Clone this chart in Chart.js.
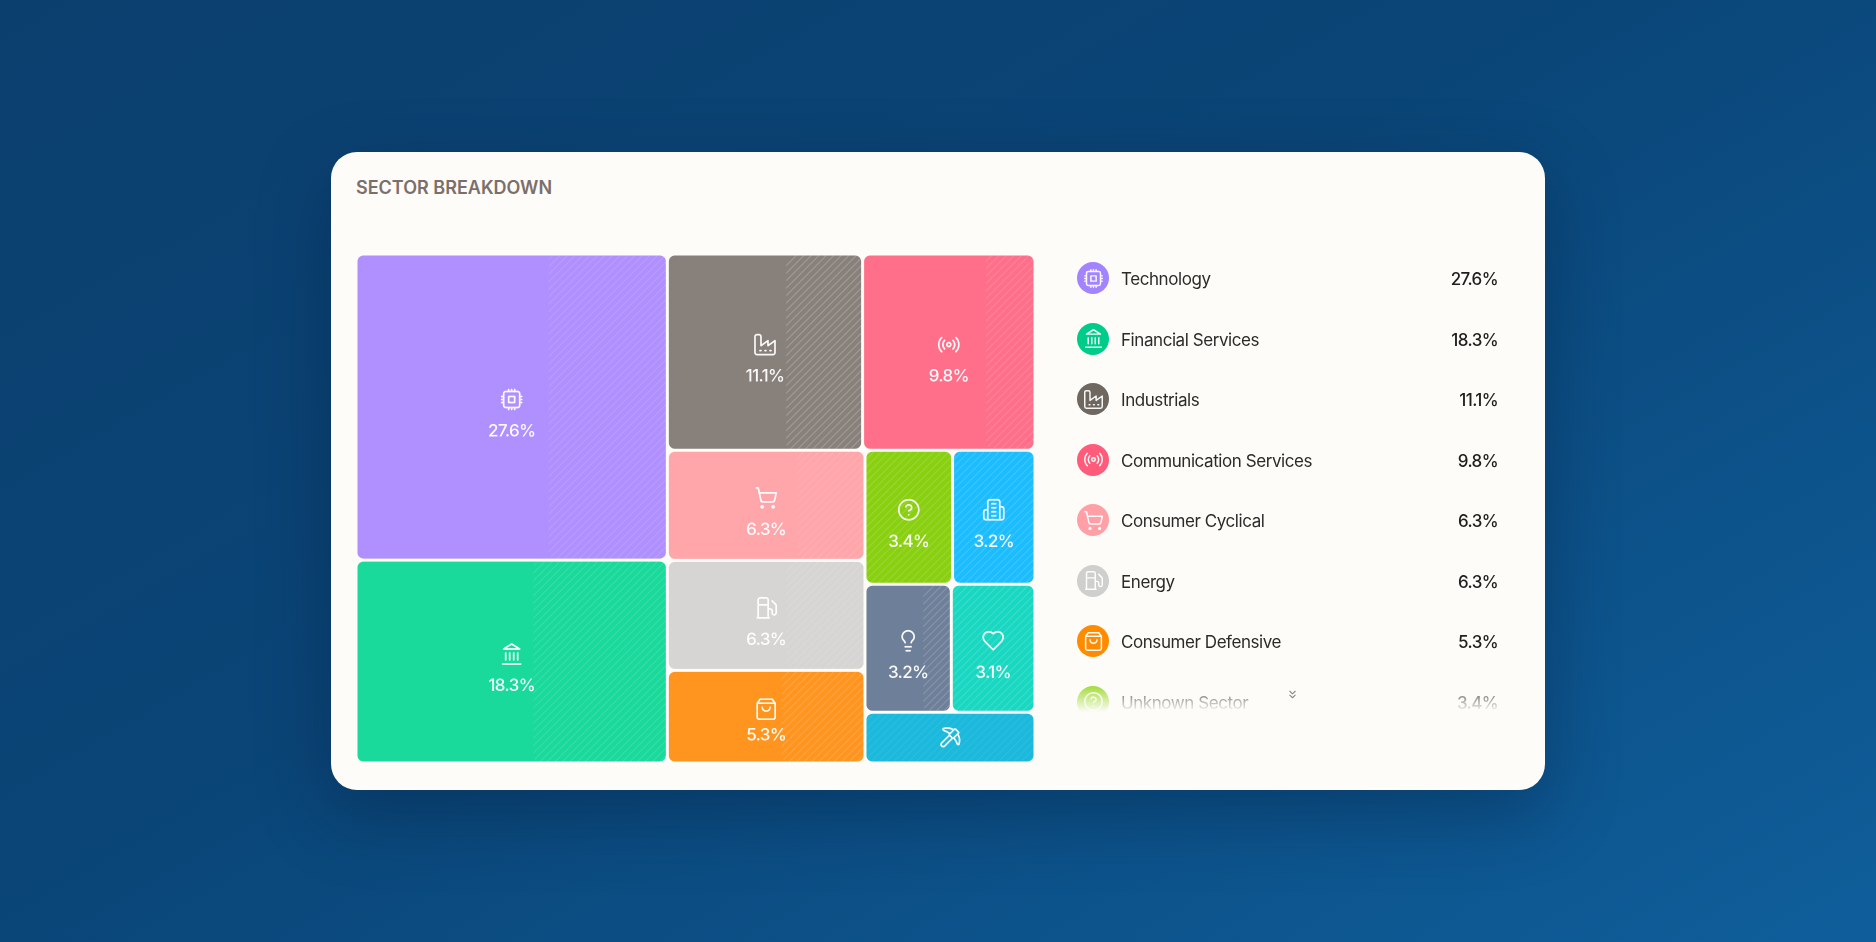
<!DOCTYPE html>
<html>
<head>
<meta charset="utf-8">
<title>Sector Breakdown</title>
<script src="https://cdn.jsdelivr.net/npm/chart.js@4"></script>
<style>
  html, body { margin: 0; height: 100%; overflow: hidden; }
  body {
    width: 1876px; height: 942px; position: relative;
    background: linear-gradient(150deg, #0b3f6e 0%, #0a4577 45%, #0f5e9b 100%);
    font-family: Inter, "Noto Sans", sans-serif;
  }
  #card {
    position: absolute; left: 331px; top: 152px; width: 1214px; height: 638px;
    background: #fdfcf8; border-radius: 26px;
    box-shadow: 0 24px 70px rgba(3, 30, 60, 0.38);
  }
  #title {
    position: absolute; left: 25px; top: 26px; font-size: 18px; font-weight: 600;
    line-height: 20px; color: #7b6f6b; letter-spacing: 0;
  }
  #sectorChart { position: absolute; left: 25px; top: 102px; }
  #legendList {
    position: absolute; left: 746px; top: 96px; width: 421px; height: 465px; overflow: hidden;
    -webkit-mask-image: linear-gradient(to bottom, #000 0, #000 432px, transparent 464px);
    mask-image: linear-gradient(to bottom, #000 0, #000 432px, transparent 464px);
  }
  .row { position: absolute; left: 0; width: 421px; height: 32px; display: flex; align-items: center; }
  .dot { width: 32px; height: 32px; border-radius: 50%; display: flex; align-items: center; justify-content: center; flex: none; }
  .name { margin-left: 12px; font-size: 17px; letter-spacing: -0.43px; color: #2b2b2a; flex: 1; position: relative; top: 1px; }
  .val { font-size: 17px; font-weight: 500; letter-spacing: -0.6px; color: #1e1e1d; position: relative; top: 1px; }
  #moreHint { position: absolute; left: 955px; top: 536px; }
</style>
</head>
<body>
<div id="card">
  <div id="title">SECTOR BREAKDOWN</div>
  <canvas id="sectorChart" width="679" height="509"></canvas>
  <div id="legendList"></div>
  <svg id="moreHint" width="13" height="13" viewBox="0 0 24 24" fill="none" stroke="#8a8a88" stroke-width="2" stroke-linecap="round" stroke-linejoin="round"><path d="M7 6l5 5 5-5M7 13l5 5 5-5"/></svg>
</div>
<script>
// Sector data
const sectorNames = ["Technology", "Financial Services", "Industrials", "Communication Services",
  "Consumer Cyclical", "Energy", "Consumer Defensive", "Unknown Sector",
  "Real Estate", "Utilities", "Healthcare", "Basic Materials"];
const sectorValues = [27.6, 18.3, 11.1, 9.8, 6.3, 6.3, 5.3, 3.4, 3.2, 3.2, 3.1, 2.5];
const legendRowCount = 8;

// How the cells nest: each level splits the other way round
const sectorTree = [[0, 1], [[2, 3], [[4, 5, 6], [[7, 8], [9, 10], [11]]]]];

// Styles
const cellColors = ["#b08fff", "#19d99b", "#88807a", "#ff6f8a", "#ffa6ab", "#d6d5d3",
  "#ff951f", "#89d010", "#1bbdff", "#6e7f99", "#19d8c1", "#1bb9dc"];
const dotColors = ["#a284ff", "#00cc8a", "#6f6861", "#ff5c7c", "#ffa0a6", "#cfcfcd",
  "#ff8c00", "#8fd412", "#1fbfff", "#6e7f99", "#1bd9c2", "#1cbadd"];
const hatchStart = [0.62, 0.57, 0.61, 0.72, 0.66, 0.6, 0.58, 0, 0, 0.68, 0, 0];
const hatchAlpha = [0.13, 0.13, 0.2, 0.13, 0.1, 0.12, 0.14, 0.14, 0.14, 0.16, 0.14, 0.08];
const iconPaths = [
  "M6 4h12a2 2 0 0 1 2 2v12a2 2 0 0 1-2 2H6a2 2 0 0 1-2-2V6a2 2 0 0 1 2-2z M9 9h6v6H9z M15 2v2 M15 20v2 M2 15h2 M2 9h2 M20 15h2 M20 9h2 M9 2v2 M9 20v2 M12 2v2 M12 20v2 M2 12h2 M20 12h2",
  "M3 22h18 M6 18v-7 M10 18v-7 M14 18v-7 M18 18v-7 M12 2l8 5H4z",
  "M2 20a2 2 0 0 0 2 2h16a2 2 0 0 0 2-2V8l-7 5V8l-7 5V4a2 2 0 0 0-2-2H4a2 2 0 0 0-2 2Z M17 18h1 M12 18h1 M7 18h1",
  "M4.9 19.1C1 15.2 1 8.8 4.9 4.9 M7.8 16.2c-2.3-2.3-2.3-6.1 0-8.5 M14 12a2 2 0 1 1-4 0 2 2 0 0 1 4 0z M16.2 7.8c2.3 2.3 2.3 6.1 0 8.5 M19.1 4.9C23 8.8 23 15.1 19.1 19",
  "M9 21a1 1 0 1 1-2 0 1 1 0 0 1 2 0z M20 21a1 1 0 1 1-2 0 1 1 0 0 1 2 0z M2.05 2.05h2l2.66 12.42a2 2 0 0 0 2 1.58h9.78a2 2 0 0 0 1.95-1.57l1.65-7.43H5.12",
  "M3 22h12 M4 9h10 M14 22V4a2 2 0 0 0-2-2H6a2 2 0 0 0-2 2v18 M14 13h2a2 2 0 0 1 2 2v2a2 2 0 0 0 2 2a2 2 0 0 0 2-2V9.83a2 2 0 0 0-.59-1.42L18 5",
  "M6 2 3 6v14a2 2 0 0 0 2 2h14a2 2 0 0 0 2-2V6l-3-4Z M3 6h18 M16 10a4 4 0 0 1-8 0",
  "M22 12a10 10 0 1 1-20 0 10 10 0 0 1 20 0z M9.09 9a3 3 0 0 1 5.83 1c0 2-3 3-3 3 M12 17h.01",
  "M6 22V4a2 2 0 0 1 2-2h8a2 2 0 0 1 2 2v18Z M6 12H4a2 2 0 0 0-2 2v6a2 2 0 0 0 2 2h2 M18 9h2a2 2 0 0 1 2 2v9a2 2 0 0 1-2 2h-2 M10 6h4 M10 10h4 M10 14h4 M10 18h4",
  "M15 14c.2-1 .7-1.7 1.5-2.5 1-.9 1.5-2.2 1.5-3.5A6 6 0 0 0 6 8c0 1 .2 2.2 1.5 3.5.7.7 1.3 1.5 1.5 2.5 M9 18h6 M10 22h4",
  "M19 14c1.49-1.46 3-3.21 3-5.5A5.5 5.5 0 0 0 16.5 3c-1.76 0-3 .5-4.5 2-1.5-1.5-2.74-2-4.5-2A5.5 5.5 0 0 0 2 8.5c0 2.3 1.5 4.05 3 5.5l7 7Z",
  "M14.531 12.469 6.619 20.38a1 1 0 1 1-3-3l7.912-7.912 M15.686 4.314A12.5 12.5 0 0 0 5.461 2.958 1 1 0 0 0 5.58 4.71a22 22 0 0 1 6.318 3.393 M17.7 3.7a1 1 0 0 0-1.4 0l-4.6 4.6a1 1 0 0 0 0 1.4l2.6 2.6a1 1 0 0 0 1.4 0l4.6-4.6a1 1 0 0 0 0-1.4z M19.686 8.314a12.501 12.501 0 0 1 1.356 10.225 1 1 0 0 1-1.751-.119 22 22 0 0 0-3.393-6.319"
];

const totalValue = sectorValues.reduce((a, b) => a + b, 0);

function nodeSum(node) {
  return Array.isArray(node) ? node.reduce((s, n) => s + nodeSum(n), 0) : sectorValues[node];
}

// Split a box along its values, in value units, so the scales do the pixel work
function splitNode(node, box, across, out) {
  if (!Array.isArray(node)) {
    out[node] = box;
    return;
  }
  const sum = nodeSum(node);
  let pos = across ? box.x0 : box.y0;
  node.forEach((child) => {
    const span = (nodeSum(child) / sum) * (across ? box.x1 - box.x0 : box.y1 - box.y0);
    const part = across
      ? { x0: pos, x1: pos + span, y0: box.y0, y1: box.y1 }
      : { x0: box.x0, x1: box.x1, y0: pos, y1: pos + span };
    splitNode(child, part, !across, out);
    pos += span;
  });
}

const cellGap = 1.5;

class TreemapController extends Chart.DatasetController {
  update(mode) {
    const meta = this.getMeta();
    this.updateElements(meta.data, 0, meta.data.length, mode);
  }
  updateElements(elements, start, count, mode) {
    const { xScale, yScale } = this.getMeta();
    const boxes = [];
    splitNode(sectorTree, { x0: 0, x1: totalValue, y0: 0, y1: totalValue }, true, boxes);
    for (let i = start; i < start + count; i++) {
      const b = boxes[i];
      const left = xScale.getPixelForValue(b.x0) + cellGap;
      const right = xScale.getPixelForValue(b.x1) - cellGap;
      const top = yScale.getPixelForValue(b.y0) + cellGap;
      const bottom = yScale.getPixelForValue(b.y1) - cellGap;
      this.updateElement(elements[i], i, {
        x: (left + right) / 2,
        y: top,
        base: bottom,
        width: right - left,
        height: bottom - top,
        horizontal: false,
        enableBorderRadius: true,
        inflateAmount: 0,
        borderSkipped: { top: false, left: false, bottom: false, right: false },
        options: this.resolveDataElementOptions(i, mode),
      }, mode);
    }
  }
  draw() {
    this.getMeta().data.forEach((el) => el.draw(this.chart.ctx));
  }
}
TreemapController.id = "treemap";
TreemapController.defaults = { dataElementType: "bar" };
Chart.register(TreemapController);

// Stripes, icons and percentages on top of the cells
const cellDecor = {
  id: "cellDecor",
  afterDatasetsDraw(chart) {
    const ctx = chart.ctx;
    chart.getDatasetMeta(0).data.forEach((el, i) => {
      const left = el.x - el.width / 2;
      const top = el.y;
      const w = el.width;
      const h = el.height;

      ctx.save();
      ctx.beginPath();
      ctx.roundRect(left + w * hatchStart[i], top, w * (1 - hatchStart[i]), h, 6);
      ctx.clip();
      ctx.strokeStyle = "rgba(255,255,255," + hatchAlpha[i] + ")";
      ctx.lineWidth = 1.2;
      ctx.beginPath();
      for (let d = left - h; d < left + w + h; d += 7.5) {
        ctx.moveTo(d, top + h);
        ctx.lineTo(d + h, top);
      }
      ctx.stroke();
      ctx.restore();

      const cx = left + w / 2;
      const cy = top + h / 2;
      const hasLabel = h > 60;
      const iconY = hasLabel ? cy - 7.5 : cy;
      const labelY = h < 100 ? cy + 18.5 : cy + 24.5;

      ctx.save();
      ctx.translate(cx - 12, iconY - 12);
      ctx.strokeStyle = "rgba(255,255,255,0.95)";
      ctx.lineWidth = 1.7;
      ctx.lineCap = "round";
      ctx.lineJoin = "round";
      ctx.stroke(new Path2D(iconPaths[i]));
      ctx.restore();

      if (hasLabel) {
        ctx.fillStyle = "rgba(255,255,255,0.96)";
        ctx.font = "500 17px Inter";
        ctx.letterSpacing = "-0.6px";
        ctx.textAlign = "center";
        ctx.textBaseline = "middle";
        ctx.fillText(sectorValues[i].toFixed(1) + "%", cx, labelY);
      }
    });
  },
};

new Chart(document.getElementById("sectorChart").getContext("2d"), {
  type: "treemap",
  data: {
    labels: sectorNames,
    datasets: [{
      data: sectorValues,
      backgroundColor: cellColors,
      borderWidth: 0,
      borderRadius: 6,
    }],
  },
  options: {
    responsive: false,
    maintainAspectRatio: false,
    animation: false,
    devicePixelRatio: 2,
    events: [],
    plugins: { legend: { display: false }, tooltip: { enabled: false } },
    scales: {
      x: { type: "linear", display: false, min: 0, max: totalValue },
      y: { type: "linear", display: false, min: 0, max: totalValue, reverse: true },
    },
  },
  plugins: [cellDecor],
});

// Legend list, the rest of the rows are scrolled out of view in the card
const legendList = document.getElementById("legendList");
sectorNames.slice(0, legendRowCount).forEach((name, i) => {
  const row = document.createElement("div");
  row.className = "row";
  row.style.top = 14 + i * 60.55 + "px";
  row.innerHTML =
    '<div class="dot" style="background:' + dotColors[i] + '">' +
    '<svg width="21" height="21" viewBox="0 0 24 24" fill="none" stroke="rgba(255,255,255,0.95)" stroke-width="1.7" stroke-linecap="round" stroke-linejoin="round"><path d="' + iconPaths[i] + '"/></svg></div>' +
    '<div class="name">' + name + '</div><div class="val">' + sectorValues[i].toFixed(1) + "%</div>";
  legendList.appendChild(row);
});
</script>
</body>
</html>
